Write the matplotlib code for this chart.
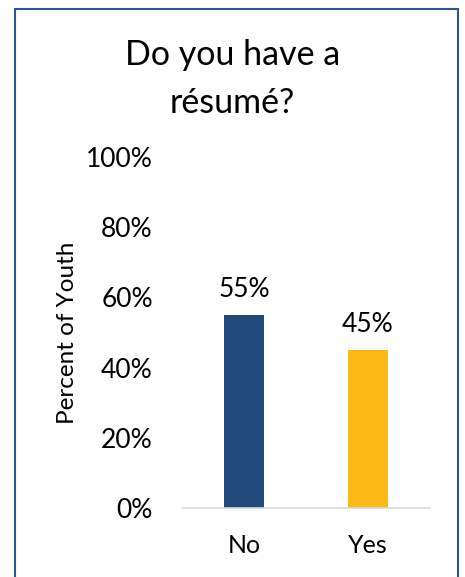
import matplotlib
matplotlib.use("Agg")
import matplotlib.pyplot as plt
from matplotlib.patches import Rectangle

categories = ["No", "Yes"]
percent = [55, 45]
bar_colors = ["#214A7B", "#FCB915"]
yticks = [0, 20, 40, 60, 80, 100]

plt.rcParams["font.family"] = ["Lato", "DejaVu Sans"]

W, H = 465, 577
fig = plt.figure(figsize=(W / 100, H / 100), dpi=100)
ax = fig.add_axes([182 / W, 1 - 508 / H, (430 - 182) / W, (508 - 157) / H])

x = range(len(categories))
ax.bar(x, percent, width=0.315, color=bar_colors, zorder=2)
for xi, v in zip(x, percent):
    ax.annotate(f"{v}%", (xi, v), xytext=(0, 13), textcoords="offset points",
                ha="center", va="baseline", fontsize=19)

ax.set_xlim(-0.5, 1.5)
ax.set_ylim(0, 100)
ax.set_yticks(yticks)
ax.set_yticklabels([f"{t}%" for t in yticks], fontsize=19)
ax.set_xticks(list(x))
ax.set_xticklabels(categories, fontsize=18)
ax.tick_params(axis="y", length=0, pad=21)
ax.tick_params(axis="x", length=0, pad=19)
for s in ("top", "right", "left"):
    ax.spines[s].set_visible(False)
ax.spines["bottom"].set_color("#D9D9D9")
ax.spines["bottom"].set_linewidth(1.2)

ax.set_ylabel("Percent of Youth", fontsize=17.5)
ax.yaxis.set_label_coords((78 - 182) / 248, 0.5)

fig.text(0.5, 1 - 55 / H, "Do you have a", ha="center", va="center", fontsize=24.5)
fig.text(0.5, 1 - 103 / H, "résumé?", ha="center", va="center", fontsize=24.5)

# chart frame, open at the bottom edge
fig.patches.append(Rectangle((14.5 / W, -0.05), (458 - 14.5) / W, 1.05 - 8.5 / H,
                             transform=fig.transFigure, fill=False,
                             edgecolor="#2F5597", linewidth=1.5))

fig.savefig("out.png", dpi=100)
